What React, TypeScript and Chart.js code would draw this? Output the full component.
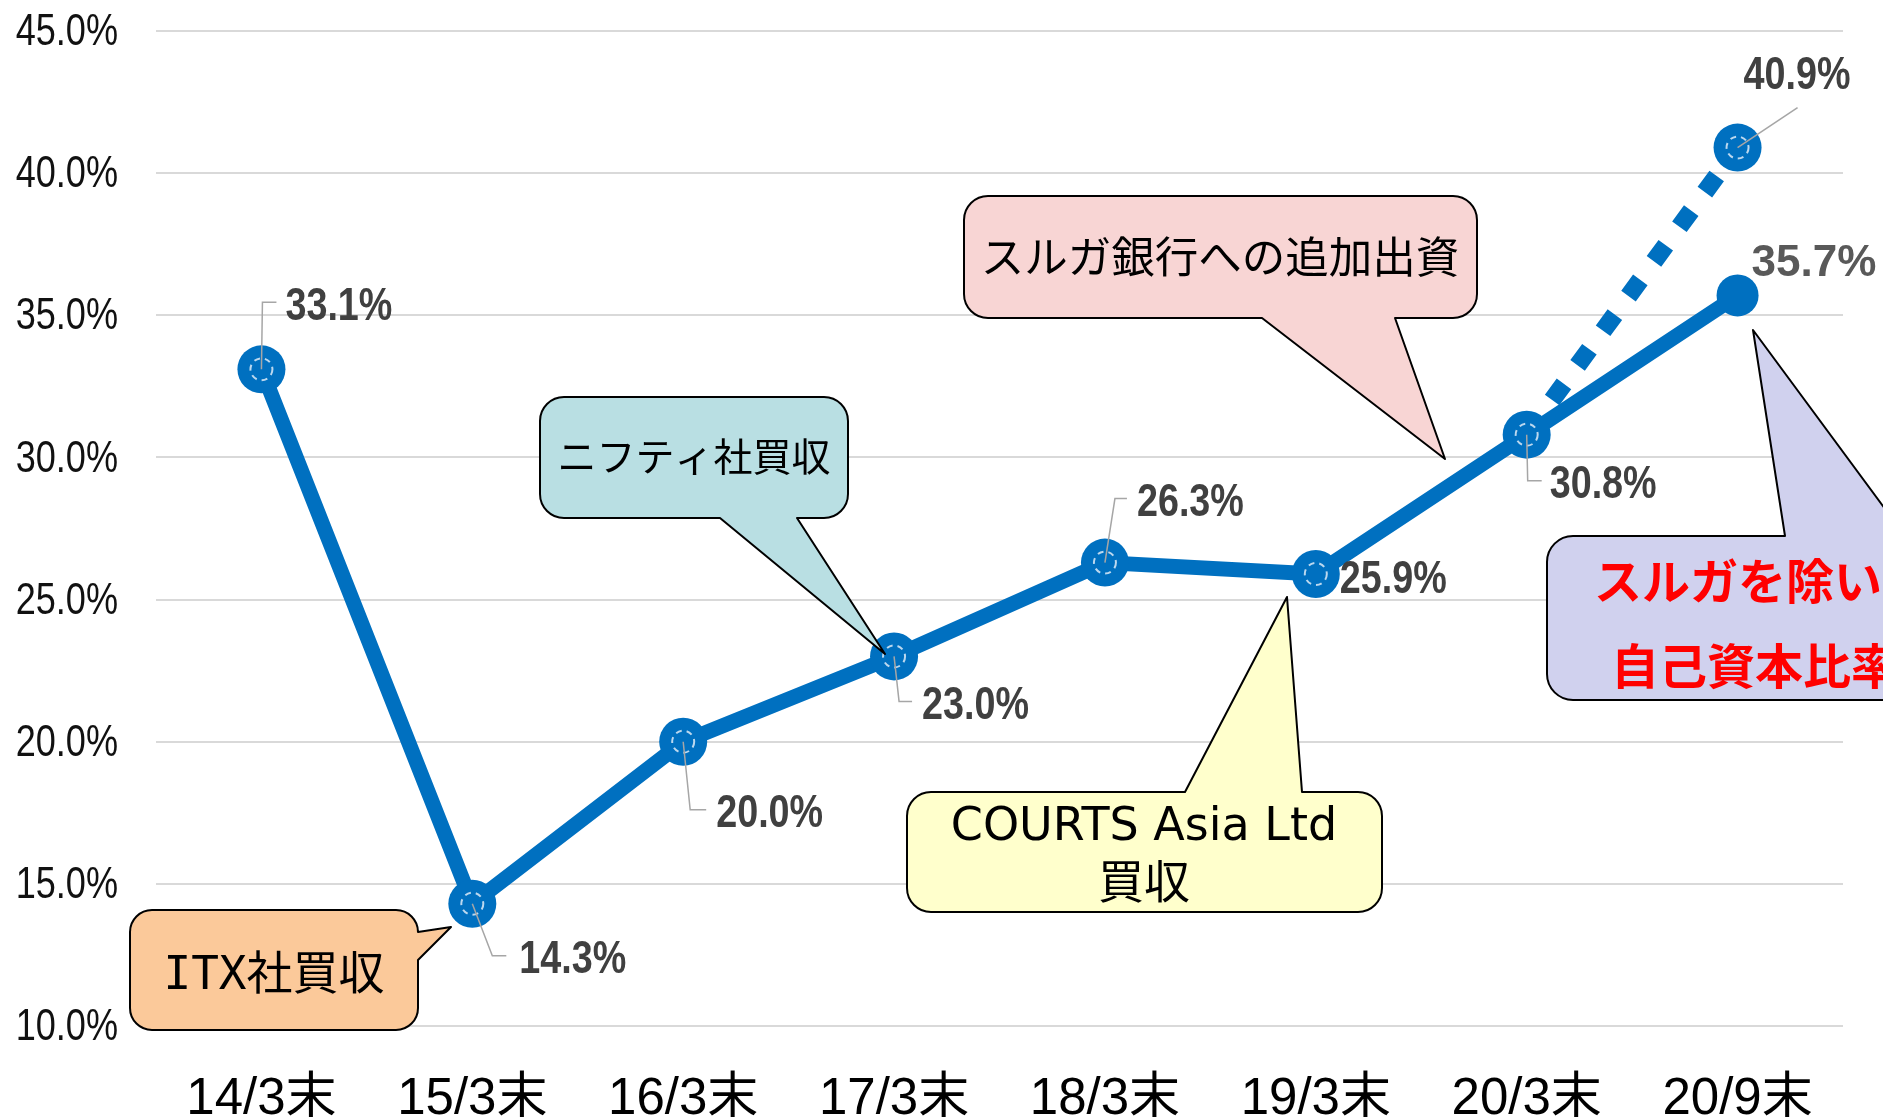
import React, { useEffect, useRef } from "react";
import { Chart, registerables } from "chart.js";

Chart.register(...registerables);

// ---- data ----
const categories = ["14/3末", "15/3末", "16/3末", "17/3末", "18/3末", "19/3末", "20/3末", "20/9末"];
const equityRatio = [33.1, 14.3, 20.0, 23.0, 26.3, 25.9, 30.8, 35.7];
const equityRatioExSuruga = [null, null, null, null, null, null, 30.8, 40.9];
const yMin = 10;
const yMax = 45;
const yStep = 5;

// ---- styling ----
const BLUE = "#0070C0";
const SANS = "'Liberation Sans', Arial, sans-serif";
const CJK = "'Noto Sans CJK JP', sans-serif";
const NARROW_SCALE = 0.82; // emulates a narrow (Arial Narrow-like) face
const LATIN_MID_SHIFT = 4; // visual centring of digits vs. em-box middle
const LABEL_GRAY = "#404040";
const LEADER_GRAY = "#A6A6A6";

// label placement relative to each point (px)
const solidLabelLayout = [
  { dx: 24, dy: -66, leader: [[1, -67], [15, -67]] },
  { dx: 47, dy: 53, leader: [[20, 52], [34, 52]] },
  { dx: 33, dy: 69, leader: [[7, 68], [23, 68]] },
  { dx: 28, dy: 46, leader: [[5, 45], [18, 45]] },
  { dx: 32, dy: -63, leader: [[10, -64], [22, -64]] },
  { dx: 24, dy: 2, leader: [] },
  { dx: 23, dy: 47, leader: [[1, 46], [15, 46]] },
  { dx: 14, dy: -36, leader: [] },
];
const dottedLabelLayout = { dx: 6, dy: -75, leader: [[60, -40]] };
const ringedSolid = [0, 1, 2, 3, 4, 5, 6];

type Tail = { edge: "top" | "bottom" | "right"; a: number; b: number; tx: number; ty: number };
type Callout = {
  x: number; y: number; w: number; h: number; r: number; fill: string; tail: Tail;
  lines: { text: string; x: number; y: number }[]; font: string; color: string;
};

const callouts: Callout[] = [
  {
    x: 130, y: 910, w: 288, h: 120, r: 22, fill: "#FBC99A",
    tail: { edge: "right", a: 932, b: 960, tx: 451, ty: 927 },
    lines: [{ text: "ITX社買収", x: 274, y: 977 }],
    font: `46px 'DejaVu Sans Mono', ${CJK}`, color: "#000",
  },
  {
    x: 540, y: 397, w: 308, h: 121, r: 24, fill: "#B9DFE3",
    tail: { edge: "bottom", a: 720, b: 797, tx: 885, ty: 654 },
    lines: [{ text: "ニフティ社買収", x: 694, y: 456 }],
    font: `39px ${CJK}`, color: "#000",
  },
  {
    x: 964, y: 196, w: 513, h: 122, r: 24, fill: "#F8D5D4",
    tail: { edge: "bottom", a: 1262, b: 1395, tx: 1445, ty: 459 },
    lines: [{ text: "スルガ銀行への追加出資", x: 1220, y: 256 }],
    font: `43.5px ${CJK}`, color: "#000",
  },
  {
    x: 907, y: 792, w: 475, h: 120, r: 24, fill: "#FFFFCC",
    tail: { edge: "top", a: 1185, b: 1302, tx: 1287, ty: 597 },
    lines: [
      { text: "COURTS Asia Ltd", x: 1144, y: 828 },
      { text: "買収", x: 1144, y: 886 },
    ],
    font: `46px 'DejaVu Sans', ${CJK}`, color: "#000",
  },
  {
    x: 1547, y: 536, w: 430, h: 164, r: 26, fill: "#D0D1EE",
    tail: { edge: "top", a: 1785, b: 1905, tx: 1753, ty: 330 },
    lines: [
      { text: "スルガを除いた", x: 1762, y: 581 },
      { text: "自己資本比率", x: 1755, y: 666 },
    ],
    font: `bold 48px ${CJK}`, color: "#FF0000",
  },
];

function calloutPath(ctx: CanvasRenderingContext2D, c: Callout) {
  const { x, y, w, h, r, tail } = c;
  const R = x + w;
  const B = y + h;
  ctx.beginPath();
  ctx.moveTo(x + r, y);
  if (tail.edge === "top") {
    ctx.lineTo(tail.a, y);
    ctx.lineTo(tail.tx, tail.ty);
    ctx.lineTo(tail.b, y);
  }
  ctx.lineTo(R - r, y);
  ctx.arcTo(R, y, R, y + r, r);
  if (tail.edge === "right") {
    ctx.lineTo(R, tail.a);
    ctx.lineTo(tail.tx, tail.ty);
    ctx.lineTo(R, tail.b);
  }
  ctx.lineTo(R, B - r);
  ctx.arcTo(R, B, R - r, B, r);
  if (tail.edge === "bottom") {
    ctx.lineTo(tail.b, B);
    ctx.lineTo(tail.tx, tail.ty);
    ctx.lineTo(tail.a, B);
  }
  ctx.lineTo(x + r, B);
  ctx.arcTo(x, B, x, B - r, r);
  ctx.lineTo(x, y + r);
  ctx.arcTo(x, y, x + r, y, r);
  ctx.closePath();
}

function drawText(
  ctx: CanvasRenderingContext2D,
  text: string,
  x: number,
  y: number,
  align: CanvasTextAlign,
  font: string,
  color: string,
  sx = 1
) {
  ctx.save();
  ctx.translate(x, y);
  ctx.scale(sx, 1);
  ctx.font = font;
  ctx.fillStyle = color;
  ctx.textAlign = align;
  ctx.textBaseline = "middle";
  ctx.fillText(text, 0, 0);
  ctx.restore();
}

const annotationPlugin = {
  id: "annotations",
  afterDatasetsDraw(chart: any) {
    const ctx: CanvasRenderingContext2D = chart.ctx;
    const solid = chart.getDatasetMeta(0).data;
    const dotted = chart.getDatasetMeta(1).data;

    // y-axis tick labels (narrow face), positioned by the library's y scale
    const yScale = chart.scales.y;
    yScale.ticks.forEach((t: any) => {
      drawText(
        ctx,
        Number(t.value).toFixed(1) + "%",
        yScale.right - 38,
        yScale.getPixelForValue(t.value) + 2,
        "right",
        `44px ${SANS}`,
        "#111",
        NARROW_SCALE
      );
    });

    // inner dashed rings on markers
    ctx.save();
    ctx.strokeStyle = "rgba(235,242,250,0.8)";
    ctx.lineWidth = 2;
    ctx.setLineDash([6, 5]);
    const rings = ringedSolid.map((i) => solid[i]).concat([dotted[7]]);
    rings.forEach((p: any) => {
      ctx.beginPath();
      ctx.arc(p.x, p.y, 11, 0, Math.PI * 2);
      ctx.stroke();
    });
    ctx.restore();

    // leader lines and value labels
    const drawLabel = (p: any, v: number, lay: any, font: string, color: string, sx: number) => {
      if (lay.leader.length) {
        ctx.save();
        ctx.strokeStyle = LEADER_GRAY;
        ctx.lineWidth = 1.5;
        ctx.beginPath();
        ctx.moveTo(p.x, p.y);
        lay.leader.forEach(([lx, ly]: number[]) => ctx.lineTo(p.x + lx, p.y + ly));
        ctx.stroke();
        ctx.restore();
      }
      drawText(ctx, v.toFixed(1) + "%", p.x + lay.dx, p.y + lay.dy + LATIN_MID_SHIFT, "left", font, color, sx);
    };
    equityRatio.forEach((v, i) => {
      const last = i === equityRatio.length - 1;
      drawLabel(
        solid[i],
        v,
        solidLabelLayout[i],
        last ? `bold 44px ${SANS}` : `bold 46px ${SANS}`,
        last ? "#595959" : LABEL_GRAY,
        last ? 1 : NARROW_SCALE
      );
    });
    const lastIdx = equityRatioExSuruga.length - 1;
    drawLabel(dotted[lastIdx], equityRatioExSuruga[lastIdx] as number, dottedLabelLayout, `bold 46px ${SANS}`, LABEL_GRAY, NARROW_SCALE);
  },
  afterDraw(chart: any) {
    const ctx: CanvasRenderingContext2D = chart.ctx;
    callouts.forEach((c) => {
      ctx.save();
      calloutPath(ctx, c);
      ctx.fillStyle = c.fill;
      ctx.fill();
      ctx.strokeStyle = "#000";
      ctx.lineWidth = 2;
      ctx.lineJoin = "round";
      ctx.stroke();
      ctx.restore();
      c.lines.forEach((l) => drawText(ctx, l.text, l.x, l.y, "center", c.font, c.color));
    });
  },
};

export default function App() {
  const canvasRef = useRef<HTMLCanvasElement | null>(null);

  useEffect(() => {
    const canvas = canvasRef.current;
    if (!canvas) return;
    const chart = new Chart(canvas, {
      type: "line",
      data: {
        labels: categories,
        datasets: [
          {
            label: "自己資本比率",
            data: equityRatio,
            borderColor: BLUE,
            backgroundColor: BLUE,
            borderWidth: 15,
            borderJoinStyle: "round",
            borderCapStyle: "round",
            pointBackgroundColor: BLUE,
            pointBorderColor: BLUE,
            pointBorderWidth: 0,
            pointRadius: [24, 24, 24, 24, 24, 24, 24, 21],
            pointHoverRadius: 24,
            tension: 0,
            clip: false,
          },
          {
            label: "スルガを除いた自己資本比率",
            data: equityRatioExSuruga,
            borderColor: BLUE,
            backgroundColor: BLUE,
            borderWidth: 18,
            borderDash: [20, 23],
            borderCapStyle: "butt",
            pointBackgroundColor: BLUE,
            pointBorderColor: BLUE,
            pointBorderWidth: 0,
            pointRadius: [0, 0, 0, 0, 0, 0, 0, 24],
            pointHoverRadius: 24,
            tension: 0,
            spanGaps: false,
            clip: false,
          },
        ] as any,
      },
      options: {
        animation: false,
        responsive: false,
        devicePixelRatio: 1,
        layout: { padding: { top: 31, right: 40, left: 0, bottom: 0 } },
        plugins: {
          legend: { display: false },
          tooltip: { enabled: false },
        },
        scales: {
          x: {
            offset: true,
            grid: { display: false },
            border: { display: false },
            ticks: {
              font: { family: `'Liberation Sans', ${CJK}`, size: 51 },
              color: "#000",
              padding: 35,
              maxRotation: 0,
              autoSkip: false,
            },
            afterFit: (scale: any) => {
              scale.height = 91;
            },
          },
          y: {
            min: yMin,
            max: yMax,
            grid: { color: "#D9D9D9", lineWidth: 2, drawTicks: false },
            border: { display: false },
            ticks: {
              stepSize: yStep,
              display: false,
            },
            afterFit: (scale: any) => {
              scale.width = 156;
            },
          },
        },
      },
      plugins: [annotationPlugin],
    });
    return () => chart.destroy();
  }, []);

  return (
    <div style={{ position: "absolute", left: 0, top: 0, width: 1883, height: 1117, background: "#fff", overflow: "hidden" }}>
      <canvas ref={canvasRef} width={1883} height={1117} style={{ display: "block" }} />
    </div>
  );
}
